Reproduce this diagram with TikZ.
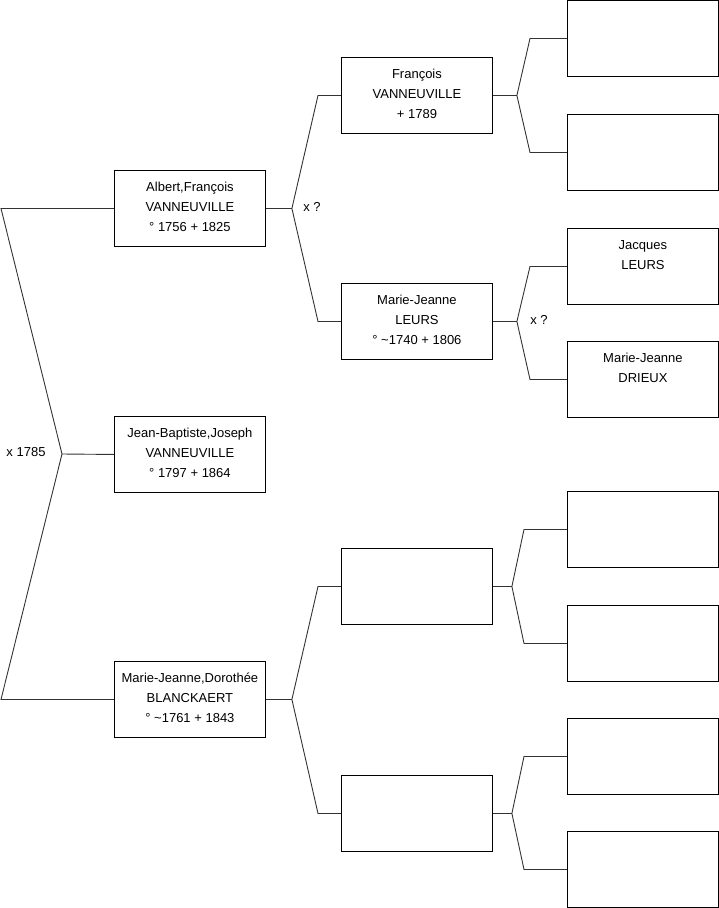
\documentclass[tikz,border=0pt]{standalone}
\usepackage{fontspec}
\setmainfont{Liberation Sans}
\usepackage{tikz}
\usetikzlibrary{positioning,calc}
\definecolor{linkgray}{HTML}{333333}

% person box contents: fixed size, text hanging from the top
\newcommand{\perstext}[1]{\parbox[t][76pt][t]{151pt}{\centering\rule{0pt}{21pt}#1}}

\begin{document}
\begin{tikzpicture}[
  x=1pt, y=-1pt,
  font=\fontsize{13}{20}\selectfont,
  persbox/.style={
    draw=black, line width=0.9pt, inner sep=0pt,
    minimum width=151pt, minimum height=76pt,
    anchor=north west, align=center,
  },
  link/.style={draw=linkgray, line width=0.9pt},
  marlabel/.style={inner sep=1pt},
]
\useasboundingbox (0,0) rectangle (719,908);

% === GENERATION 1 ===
\node[persbox] (jb)  at (114,416) {\perstext{Jean-Baptiste,Joseph\\VANNEUVILLE\\\textdegree{} 1797 + 1864}};
\node[persbox] (afv) at (114,170) {\perstext{Albert,François\\VANNEUVILLE\\\textdegree{} 1756 + 1825}};
\node[persbox] (mdb) at (114,661) {\perstext{Marie-Jeanne,Dorothée\\BLANCKAERT\\\textdegree{} \textasciitilde1761 + 1843}};

% === GENERATION 2 ===
\node[persbox] (fv)  at (341,57)  {\perstext{François\\VANNEUVILLE\\+ 1789}};
\node[persbox] (mjl) at (341,283) {\perstext{Marie-Jeanne\\LEURS\\\textdegree{} \textasciitilde1740 + 1806}};
\node[persbox] (gb1) at (341,548) {};
\node[persbox] (gb2) at (341,775) {};

% === GENERATION 3 ===
\node[persbox] (ga1) at (567,0)   {};
\node[persbox] (ga2) at (567,114) {};
\node[persbox] (jl)  at (567,228) {\perstext{Jacques\\LEURS}};
\node[persbox] (mjd) at (567,341) {\perstext{Marie-Jeanne\\DRIEUX}};
\node[persbox] (gc1) at (567,491) {};
\node[persbox] (gc2) at (567,605) {};
\node[persbox] (gc3) at (567,718) {};
\node[persbox] (gc4) at (567,831) {};

% --- fork points ---
\coordinate (fk0) at (62,454);
\coordinate (fk1) at ($(afv.east)+(26,0)$);
\coordinate (fk2) at ($(mdb.east)+(26,0)$);
\coordinate (fk3) at ($(fv.east)+(24,0)$);
\coordinate (fk4) at ($(mjl.east)+(24,0)$);
\coordinate (fk5) at ($(gb1.east)+(19,0)$);
\coordinate (fk6) at ($(gb2.east)+(19,0)$);

% --- Jean-Baptiste to parents ---
\draw[link] (jb.west) -- (fk0);
\draw[link] (fk0) -- ([xshift=-113pt]afv.west) -- (afv.west);
\draw[link] (fk0) -- ([xshift=-113pt]mdb.west) -- (mdb.west);
\node[marlabel] (m0) at (26,452) {x 1785};

% --- Albert,François to parents ---
\draw[link] (afv.east) -- (fk1);
\draw[link] (fk1) -- ([xshift=-23pt]fv.west) -- (fv.west);
\draw[link] (fk1) -- ([xshift=-23pt]mjl.west) -- (mjl.west);
\node[marlabel] (m1) at (312,207) {x ?};

% --- Marie-Jeanne,Dorothée to parents ---
\draw[link] (mdb.east) -- (fk2);
\draw[link] (fk2) -- ([xshift=-23pt]gb1.west) -- (gb1.west);
\draw[link] (fk2) -- ([xshift=-23pt]gb2.west) -- (gb2.west);

% --- François to parents ---
\draw[link] (fv.east) -- (fk3);
\draw[link] (fk3) -- ([xshift=-37pt]ga1.west) -- (ga1.west);
\draw[link] (fk3) -- ([xshift=-37pt]ga2.west) -- (ga2.west);

% --- Marie-Jeanne LEURS to parents ---
\draw[link] (mjl.east) -- (fk4);
\draw[link] (fk4) -- ([xshift=-37pt]jl.west) -- (jl.west);
\draw[link] (fk4) -- ([xshift=-37pt]mjd.west) -- (mjd.west);
\node[marlabel] (m4) at (539,320) {x ?};

% --- lower branch ---
\draw[link] (gb1.east) -- (fk5);
\draw[link] (fk5) -- ([xshift=-43pt]gc1.west) -- (gc1.west);
\draw[link] (fk5) -- ([xshift=-43pt]gc2.west) -- (gc2.west);
\draw[link] (gb2.east) -- (fk6);
\draw[link] (fk6) -- ([xshift=-43pt]gc3.west) -- (gc3.west);
\draw[link] (fk6) -- ([xshift=-43pt]gc4.west) -- (gc4.west);

\end{tikzpicture}
\end{document}
